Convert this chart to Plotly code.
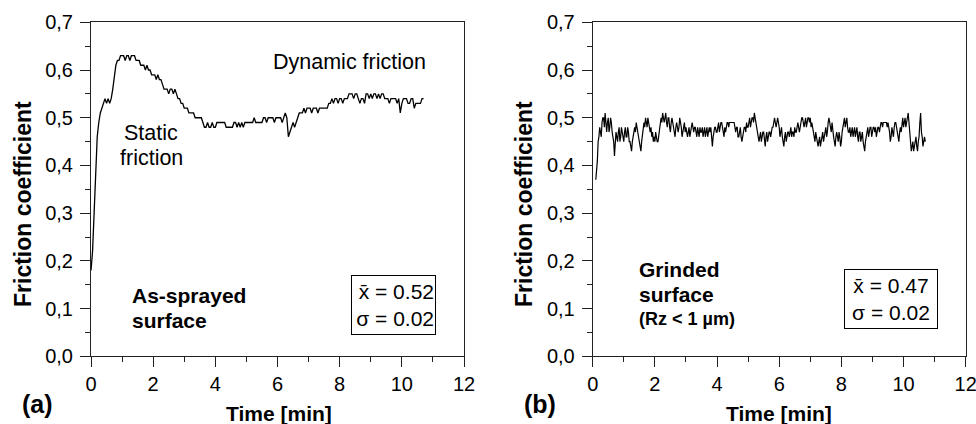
import numpy as np
import plotly.graph_objects as go

W, H = 976, 424
FONT = "Liberation Sans, Arial, sans-serif"

# ---------------- data ----------------
# (a) as-sprayed surface, sampled every 0.05 min from 0.00 to 10.70 min
left_t0, left_step = 0.00, 0.05
left_mu = [
    0.18, 0.22, 0.30, 0.39, 0.46, 0.49, 0.51, 0.52, 0.53, 0.54, 0.53, 0.54, 0.53, 0.54, 0.56, 0.59, 0.61, 0.62, 0.62, 0.63,
    0.63, 0.63, 0.62, 0.63, 0.63, 0.62, 0.63, 0.63, 0.63, 0.62, 0.62, 0.62, 0.61, 0.61, 0.61, 0.60, 0.61, 0.60, 0.60, 0.59,
    0.59, 0.59, 0.58, 0.59, 0.58, 0.58, 0.57, 0.56, 0.56, 0.56, 0.55, 0.56, 0.56, 0.55, 0.56, 0.55, 0.54, 0.54, 0.53, 0.53,
    0.52, 0.52, 0.52, 0.51, 0.51, 0.51, 0.51, 0.50, 0.50, 0.50, 0.50, 0.50, 0.49, 0.48, 0.48, 0.49, 0.48, 0.48, 0.49, 0.48,
    0.48, 0.49, 0.49, 0.49, 0.49, 0.49, 0.49, 0.48, 0.48, 0.48, 0.48, 0.48, 0.49, 0.49, 0.48, 0.49, 0.48, 0.49, 0.48, 0.49,
    0.49, 0.49, 0.49, 0.49, 0.49, 0.50, 0.49, 0.49, 0.49, 0.49, 0.49, 0.50, 0.50, 0.49, 0.50, 0.50, 0.50, 0.50, 0.49, 0.50,
    0.50, 0.50, 0.50, 0.49, 0.50, 0.51, 0.50, 0.46, 0.47, 0.48, 0.49, 0.48, 0.49, 0.50, 0.51, 0.51, 0.51, 0.52, 0.51, 0.52,
    0.52, 0.52, 0.51, 0.52, 0.52, 0.52, 0.51, 0.52, 0.52, 0.52, 0.52, 0.52, 0.52, 0.53, 0.53, 0.54, 0.53, 0.54, 0.54, 0.53,
    0.54, 0.54, 0.53, 0.54, 0.54, 0.54, 0.55, 0.55, 0.55, 0.54, 0.55, 0.55, 0.54, 0.53, 0.54, 0.54, 0.53, 0.55, 0.55, 0.54,
    0.55, 0.54, 0.55, 0.55, 0.54, 0.55, 0.54, 0.55, 0.55, 0.54, 0.54, 0.54, 0.53, 0.54, 0.54, 0.54, 0.54, 0.53, 0.54, 0.51,
    0.53, 0.54, 0.54, 0.54, 0.53, 0.53, 0.54, 0.54, 0.52, 0.53, 0.53, 0.53, 0.53, 0.54, 0.54,
]

# (b) grinded surface: readings at 0.10, 0.15, ... 10.70 min
right_t0, right_step = 0.10, 0.05
right_mu = [
    0.37, 0.41, 0.46, 0.47, 0.49, 0.50, 0.51, 0.47, 0.50, 0.48, 0.49, 0.46, 0.42, 0.47, 0.45, 0.48, 0.46, 0.47,
    0.45, 0.48, 0.46, 0.47, 0.45, 0.43, 0.46, 0.48, 0.49, 0.47, 0.45, 0.43, 0.46, 0.49, 0.50, 0.48, 0.49, 0.47, 0.46, 0.45,
    0.45, 0.46, 0.45, 0.47, 0.50, 0.51, 0.49, 0.51, 0.48, 0.50, 0.47, 0.50, 0.48, 0.46, 0.49, 0.47, 0.50, 0.48, 0.47, 0.49,
    0.48, 0.46, 0.48, 0.47, 0.49, 0.47, 0.48, 0.46, 0.47, 0.48, 0.47, 0.46, 0.48, 0.47, 0.46, 0.48, 0.48, 0.44, 0.47, 0.48,
    0.47, 0.49, 0.48, 0.49, 0.47, 0.48, 0.48, 0.49, 0.49, 0.49, 0.49, 0.49, 0.47, 0.48, 0.46, 0.48, 0.45, 0.47, 0.48, 0.49,
    0.48, 0.50, 0.49, 0.50, 0.51, 0.49, 0.47, 0.45, 0.47, 0.46, 0.47, 0.44, 0.47, 0.46, 0.47, 0.47, 0.48, 0.50, 0.48, 0.50,
    0.48, 0.47, 0.46, 0.44, 0.47, 0.46, 0.47, 0.47, 0.46, 0.47, 0.48, 0.47, 0.49, 0.47, 0.49, 0.50, 0.48, 0.50, 0.49, 0.50,
    0.50, 0.49, 0.47, 0.45, 0.46, 0.44, 0.46, 0.45, 0.47, 0.46, 0.48, 0.47, 0.50, 0.48, 0.49, 0.46, 0.44, 0.47, 0.45, 0.46,
    0.45, 0.48, 0.50, 0.49, 0.48, 0.47, 0.46, 0.48, 0.47, 0.46, 0.48, 0.45, 0.47, 0.46, 0.45, 0.43, 0.46, 0.48, 0.47, 0.48,
    0.47, 0.48, 0.48, 0.47, 0.48, 0.48, 0.49, 0.49, 0.49, 0.49, 0.49, 0.47, 0.46, 0.47, 0.48, 0.49, 0.47, 0.45, 0.48, 0.49,
    0.48, 0.50, 0.49, 0.51, 0.47, 0.43, 0.45, 0.44, 0.46, 0.43, 0.46, 0.51, 0.46, 0.45, 0.45,
]
# (b) readings half-way between the above (0.125, 0.175, ... 10.675 min)
right_mu_mid = [
    0.39, 0.45, 0.48, 0.46, 0.50, 0.48, 0.49, 0.49, 0.47, 0.50, 0.47, 0.45, 0.45, 0.46, 0.47, 0.45, 0.48, 0.46,
    0.47, 0.46, 0.48, 0.45, 0.44, 0.45, 0.47, 0.47, 0.48, 0.46, 0.44, 0.45, 0.47, 0.48, 0.49, 0.50, 0.48, 0.48, 0.47, 0.46,
    0.47, 0.45, 0.46, 0.49, 0.49, 0.50, 0.50, 0.49, 0.50, 0.48, 0.49, 0.49, 0.47, 0.48, 0.48, 0.48, 0.49, 0.46, 0.48, 0.47,
    0.47, 0.47, 0.46, 0.48, 0.48, 0.48, 0.47, 0.48, 0.46, 0.47, 0.48, 0.47, 0.46, 0.48, 0.47, 0.47, 0.46, 0.46, 0.48, 0.47,
    0.48, 0.47, 0.49, 0.48, 0.46, 0.47, 0.49, 0.48, 0.49, 0.49, 0.49, 0.48, 0.48, 0.46, 0.47, 0.46, 0.46, 0.48, 0.47, 0.48,
    0.49, 0.48, 0.50, 0.49, 0.50, 0.48, 0.46, 0.46, 0.45, 0.47, 0.45, 0.46, 0.45, 0.47, 0.46, 0.48, 0.49, 0.49, 0.49, 0.49,
    0.46, 0.48, 0.45, 0.46, 0.45, 0.47, 0.46, 0.48, 0.47, 0.46, 0.47, 0.48, 0.48, 0.48, 0.50, 0.49, 0.49, 0.48, 0.50, 0.49,
    0.48, 0.48, 0.46, 0.47, 0.45, 0.45, 0.44, 0.46, 0.45, 0.47, 0.46, 0.49, 0.49, 0.47, 0.47, 0.45, 0.46, 0.46, 0.47, 0.44,
    0.47, 0.49, 0.48, 0.50, 0.47, 0.48, 0.47, 0.46, 0.48, 0.47, 0.46, 0.47, 0.45, 0.47, 0.44, 0.45, 0.47, 0.46, 0.48, 0.46,
    0.48, 0.47, 0.46, 0.48, 0.47, 0.49, 0.48, 0.49, 0.49, 0.48, 0.48, 0.45, 0.48, 0.46, 0.49, 0.48, 0.46, 0.47, 0.47, 0.50,
    0.49, 0.48, 0.50, 0.49, 0.45, 0.44, 0.43, 0.45, 0.44, 0.45, 0.49, 0.47, 0.44, 0.46,
]

x_tick_vals = [0, 2, 4, 6, 8, 10, 12]
y_tick_vals = [0.0, 0.1, 0.2, 0.3, 0.4, 0.5, 0.6, 0.7]
y_tick_text = ["0,0", "0,1", "0,2", "0,3", "0,4", "0,5", "0,6", "0,7"]

stats_a = {"mean": "0.52", "sigma": "0.02"}
stats_b = {"mean": "0.47", "sigma": "0.02"}

left_time = np.round(left_t0 + left_step * np.arange(len(left_mu)), 3)

# merge the two sets of (b) readings in time order
right_time, right_all = [], []
for i, v in enumerate(right_mu):
    right_time.append(round(right_t0 + right_step * i, 3))
    right_all.append(v)
    if i < len(right_mu_mid) and i < len(right_mu) - 1:
        right_time.append(round(right_t0 + right_step * (i + 0.5), 3))
        right_all.append(right_mu_mid[i])

# ---------------- figure ----------------
def px(x):
    return x / W

def py(y):
    return 1 - y / H

AX = "#222222"

fig = go.Figure()
fig.add_trace(go.Scatter(x=left_time, y=left_mu, mode="lines",
                         line=dict(color="black", width=1.3),
                         xaxis="x", yaxis="y", showlegend=False, hoverinfo="skip"))
fig.add_trace(go.Scatter(x=right_time, y=right_all, mode="lines",
                         line=dict(color="black", width=1.2),
                         xaxis="x2", yaxis="y2", showlegend=False, hoverinfo="skip"))


def xaxis(domain, anchor):
    return dict(domain=domain, anchor=anchor, range=[0, 12],
                tickmode="array", tickvals=x_tick_vals,
                ticktext=[str(v) for v in x_tick_vals],
                ticks="outside", ticklen=10, tickwidth=1, tickcolor=AX,
                minor=dict(dtick=1, tick0=0, ticks="outside", ticklen=5, tickwidth=1, tickcolor=AX),
                showline=True, linecolor=AX, linewidth=1, mirror=True,
                showgrid=False, zeroline=False, automargin=False,
                ticklabeloverflow="allow",
                tickfont=dict(family=FONT, size=20, color="black"))


def yaxis(domain, anchor):
    return dict(domain=domain, anchor=anchor, range=[0, 0.7],
                tickmode="array", tickvals=y_tick_vals, ticktext=y_tick_text,
                ticks="outside", ticklen=10, tickwidth=1, tickcolor=AX,
                minor=dict(dtick=0.05, tick0=0, ticks="outside", ticklen=5, tickwidth=1, tickcolor=AX),
                showline=True, linecolor=AX, linewidth=1, mirror=True,
                showgrid=False, zeroline=False, automargin=False,
                ticklabelstandoff=3, ticklabeloverflow="allow",
                tickfont=dict(family=FONT, size=20, color="black"))


ydom = [py(356.3), py(22.3)]
fig.update_layout(
    width=W, height=H,
    margin=dict(l=0, r=0, t=0, b=0),
    paper_bgcolor="white", plot_bgcolor="white",
    font=dict(family=FONT, color="black"),
    xaxis=xaxis([px(91), px(464)], "y"),
    yaxis=yaxis(ydom, "x"),
    xaxis2=xaxis([px(592.7), px(965.7)], "y2"),
    yaxis2=yaxis(ydom, "x2"),
)


def ann(text, x, y, size=21, bold=False, xanchor="center", textangle=0, **kw):
    if bold:
        text = "<b>" + text + "</b>"
    fig.add_annotation(text=text, x=px(x), y=py(y), xref="paper", yref="paper",
                       xanchor=xanchor, yanchor="middle", showarrow=False,
                       textangle=textangle,
                       font=dict(family=FONT, size=size, color="black"), **kw)


# axis titles
for cx in (23, 524):
    ann("Friction coefficient", cx, 204, size=23, bold=True, textangle=-90)
ann("Time [min]", 279, 413, size=21, bold=True)
ann("Time [min]", 779, 413, size=21, bold=True)

# panel labels
ann("(a)", 37, 404, size=25, bold=True)
ann("(b)", 540, 404, size=25, bold=True)

# panel (a) texts
ann("Dynamic friction", 349, 62, size=21.5)
ann("Static", 151, 133, size=21.5)
ann("friction", 151, 158, size=21.5)
ann("As-sprayed", 130, 295, size=21, bold=True, xanchor="left")
ann("surface", 130, 320, size=21, bold=True, xanchor="left")

# panel (b) texts
ann("Grinded", 637, 269, size=21, bold=True, xanchor="left")
ann("surface", 637, 294, size=21, bold=True, xanchor="left")
ann("(Rz &lt; 1 µm)", 637, 319, size=18, bold=True, xanchor="left")

# stat boxes
fig.add_annotation(text=f"x\u0304 = {stats_a['mean']}<br>σ = {stats_a['sigma']}",
                   x=px(393.2), y=py(305.3), xref="paper", yref="paper",
                   xanchor="center", yanchor="middle", showarrow=False,
                   align="right", width=81, height=56, borderpad=1,
                   bordercolor="black", borderwidth=1, bgcolor="white",
                   font=dict(family=FONT, size=21, color="black"))
fig.add_annotation(text=f"x\u0304 = {stats_b['mean']}<br>σ = {stats_b['sigma']}",
                   x=px(890.5), y=py(299.3), xref="paper", yref="paper",
                   xanchor="center", yanchor="middle", showarrow=False,
                   align="center", width=90, height=56, borderpad=1,
                   bordercolor="black", borderwidth=1, bgcolor="white",
                   font=dict(family=FONT, size=21, color="black"))

fig.write_html("out.html", config={"displayModeBar": False},
               post_script="document.body.style.margin='0';document.body.style.overflow='hidden';")
